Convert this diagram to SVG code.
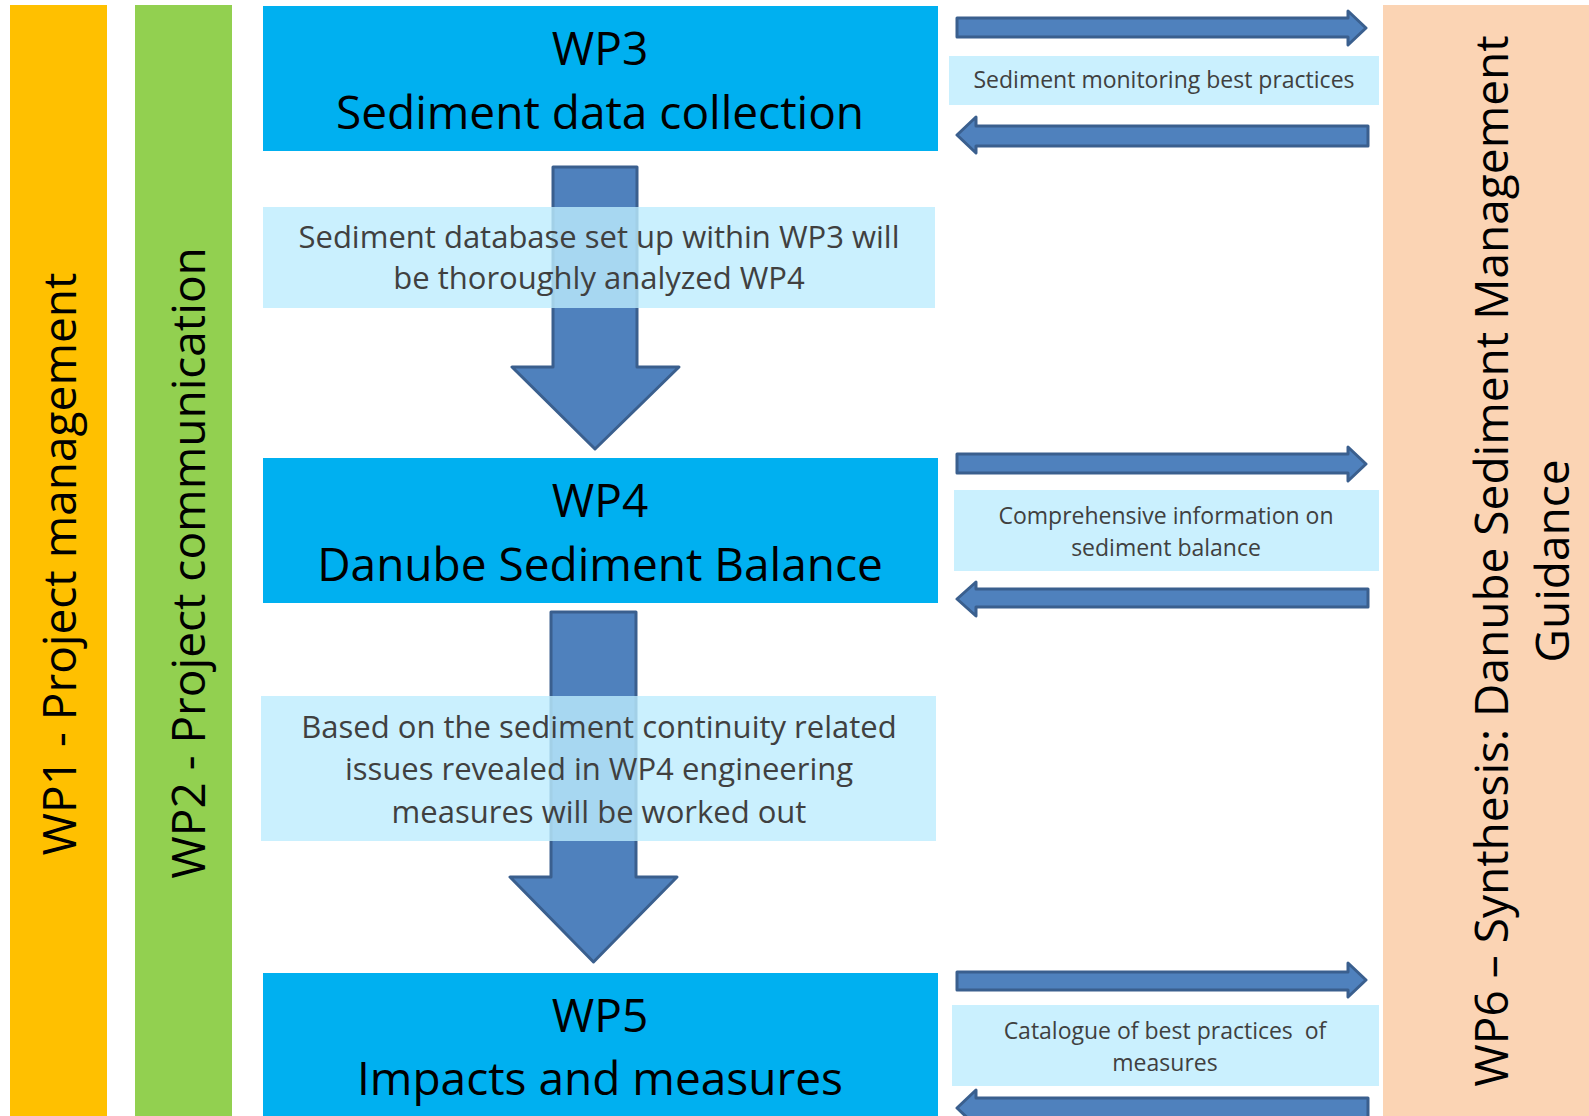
<svg xmlns="http://www.w3.org/2000/svg" width="1589" height="1116" viewBox="0 0 1589 1116">
<style>
.bar1{fill:#ffc000}
.bar2{fill:#92d050}
.bar6{fill:#fbd4b4}
.wp{fill:#00b0f0}
.note{fill:#bdecfe;fill-opacity:0.8}
.arr{fill:#4f81bd;stroke:#3a5f8e;stroke-width:3;stroke-linejoin:round}
.big{font-family:"Open Sans","Noto Sans","Liberation Sans",sans-serif;font-size:46px;fill:#000;text-anchor:middle}
.mid{font-family:"Open Sans","Noto Sans","Liberation Sans",sans-serif;font-size:31px;fill:#404040;text-anchor:middle}
.sm{font-family:"Open Sans","Noto Sans","Liberation Sans",sans-serif;font-size:23px;fill:#404040;text-anchor:middle;white-space:pre}
</style>
<rect width="1589" height="1116" fill="#fff"/>
<g id="wp1">
<rect class="bar1" x="10" y="5" width="97" height="1111"/>
<text class="big" transform="translate(76,564) rotate(-90)">WP1 - Project management</text>
</g>
<g id="wp2">
<rect class="bar2" x="135" y="5" width="97" height="1111"/>
<text class="big" transform="translate(205,563) rotate(-90)">WP2 - Project communication</text>
</g>
<g id="wp6">
<rect class="bar6" x="1383" y="5" width="206" height="1111"/>
<text class="big" transform="translate(1508,561) rotate(-90)"><tspan x="0" y="0">WP6 – Synthesis: Danube Sediment Management</tspan><tspan x="0" y="61">Guidance</tspan></text>
</g>
<g id="connectors">
<path class="arr" d="M553,167 H637 V367 H679 L595,449 L512,367 H553 Z"/>
<path class="arr" d="M551,612 H636 V877 H677 L593.5,962 L510,877 H551 Z"/>
<path class="arr" d="M957,18 H1348 V11 L1366,28 L1348,45 V37 H957 Z"/>
<path class="arr" d="M1368,126 H976 V117 L957,135 L976,153 V146 H1368 Z"/>
<path class="arr" d="M957,454 H1348 V447 L1366,464 L1348,481 V473 H957 Z"/>
<path class="arr" d="M1368,589 H976 V582 L957,599 L976,616 V607 H1368 Z"/>
<path class="arr" d="M957,972 H1348 V963 L1366,980 L1348,997 V990 H957 Z"/>
<path class="arr" d="M1368,1098 H976 V1090 L957,1108 L976,1126 V1118 H1368 Z"/>
</g>
<g id="wp3">
<rect class="wp" x="263" y="6" width="675" height="145"/>
<text class="big" x="600" y="65">WP3</text>
<text class="big" x="600" y="129">Sediment data collection</text>
</g>
<g id="wp4">
<rect class="wp" x="263" y="458" width="675" height="145"/>
<text class="big" x="600" y="517">WP4</text>
<text class="big" x="600" y="581">Danube Sediment Balance</text>
</g>
<g id="wp5">
<rect class="wp" x="263" y="973" width="675" height="143"/>
<text class="big" x="600" y="1032">WP5</text>
<text class="big" x="600" y="1095">Impacts and measures</text>
</g>
<g id="note1">
<rect class="note" x="263" y="207" width="672" height="101"/>
<text class="mid" x="599" y="248">Sediment database set up within WP3 will</text>
<text class="mid" x="599" y="289">be thoroughly analyzed WP4</text>
</g>
<g id="note2">
<rect class="note" x="261" y="696" width="675" height="145"/>
<text class="mid" x="599" y="738">Based on the sediment continuity related</text>
<text class="mid" x="599" y="780">issues revealed in WP4 engineering</text>
<text class="mid" x="599" y="823">measures will be worked out</text>
</g>
<g id="note3">
<rect class="note" x="949" y="56" width="430" height="49"/>
<text class="sm" x="1164" y="88">Sediment monitoring best practices</text>
</g>
<g id="note4">
<rect class="note" x="954" y="490" width="425" height="81"/>
<text class="sm" x="1166" y="524">Comprehensive information on</text>
<text class="sm" x="1166" y="556">sediment balance</text>
</g>
<g id="note5">
<rect class="note" x="952" y="1005" width="427" height="81"/>
<text class="sm" x="1165" y="1039">Catalogue of best practices  of</text>
<text class="sm" x="1165" y="1071">measures</text>
</g>
</svg>
